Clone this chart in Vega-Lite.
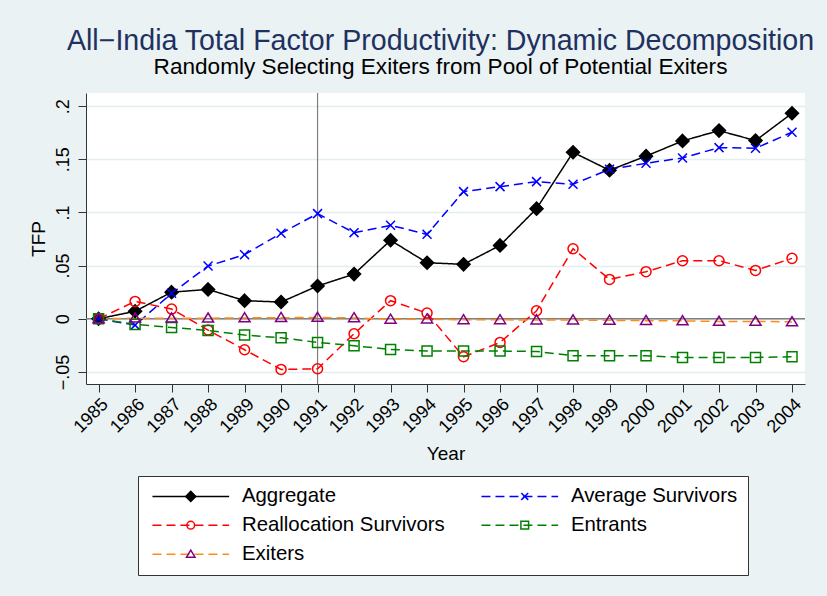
{
  "$schema": "https://vega.github.io/schema/vega-lite/v6.json",
  "width": 719,
  "height": 291,
  "autosize": {"type": "none"},
  "padding": {"left": 86, "top": 93, "right": 22, "bottom": 212},
  "background": "#EAF2F3",
  "view": {"fill": "white", "stroke": null},
  "config": {"font": "Liberation Sans"},
  "title": {
    "text": "All−India Total Factor Productivity: Dynamic Decomposition",
    "subtitle": "Randomly Selecting Exiters from Pool of Potential Exiters",
    "fontSize": 28.6,
    "fontWeight": "normal",
    "color": "#1E3160",
    "subtitleFontSize": 22.6,
    "subtitleColor": "black",
    "subtitlePadding": 0,
    "anchor": "middle",
    "dx": -5,
    "offset": 14
  },
  "data": {"values": [
    {"year": 1985, "series": "Aggregate", "code": "a", "value": 0},
    {"year": 1986, "series": "Aggregate", "code": "a", "value": 0.007},
    {"year": 1987, "series": "Aggregate", "code": "a", "value": 0.025},
    {"year": 1988, "series": "Aggregate", "code": "a", "value": 0.0276},
    {"year": 1989, "series": "Aggregate", "code": "a", "value": 0.017},
    {"year": 1990, "series": "Aggregate", "code": "a", "value": 0.0157},
    {"year": 1991, "series": "Aggregate", "code": "a", "value": 0.0308},
    {"year": 1992, "series": "Aggregate", "code": "a", "value": 0.042},
    {"year": 1993, "series": "Aggregate", "code": "a", "value": 0.0738},
    {"year": 1994, "series": "Aggregate", "code": "a", "value": 0.0527},
    {"year": 1995, "series": "Aggregate", "code": "a", "value": 0.0512},
    {"year": 1996, "series": "Aggregate", "code": "a", "value": 0.069},
    {"year": 1997, "series": "Aggregate", "code": "a", "value": 0.1036},
    {"year": 1998, "series": "Aggregate", "code": "a", "value": 0.1566},
    {"year": 1999, "series": "Aggregate", "code": "a", "value": 0.1397},
    {"year": 2000, "series": "Aggregate", "code": "a", "value": 0.153},
    {"year": 2001, "series": "Aggregate", "code": "a", "value": 0.1673},
    {"year": 2002, "series": "Aggregate", "code": "a", "value": 0.177},
    {"year": 2003, "series": "Aggregate", "code": "a", "value": 0.1676},
    {"year": 2004, "series": "Aggregate", "code": "a", "value": 0.1933},
    {"year": 1985, "series": "Average Survivors", "code": "b", "value": 0},
    {"year": 1986, "series": "Average Survivors", "code": "b", "value": -0.006},
    {"year": 1987, "series": "Average Survivors", "code": "b", "value": 0.0239},
    {"year": 1988, "series": "Average Survivors", "code": "b", "value": 0.0496},
    {"year": 1989, "series": "Average Survivors", "code": "b", "value": 0.0603},
    {"year": 1990, "series": "Average Survivors", "code": "b", "value": 0.0804},
    {"year": 1991, "series": "Average Survivors", "code": "b", "value": 0.0989},
    {"year": 1992, "series": "Average Survivors", "code": "b", "value": 0.081},
    {"year": 1993, "series": "Average Survivors", "code": "b", "value": 0.0879},
    {"year": 1994, "series": "Average Survivors", "code": "b", "value": 0.0794},
    {"year": 1995, "series": "Average Survivors", "code": "b", "value": 0.1196},
    {"year": 1996, "series": "Average Survivors", "code": "b", "value": 0.1243},
    {"year": 1997, "series": "Average Survivors", "code": "b", "value": 0.129},
    {"year": 1998, "series": "Average Survivors", "code": "b", "value": 0.1265},
    {"year": 1999, "series": "Average Survivors", "code": "b", "value": 0.1406},
    {"year": 2000, "series": "Average Survivors", "code": "b", "value": 0.1463},
    {"year": 2001, "series": "Average Survivors", "code": "b", "value": 0.1513},
    {"year": 2002, "series": "Average Survivors", "code": "b", "value": 0.161},
    {"year": 2003, "series": "Average Survivors", "code": "b", "value": 0.1604},
    {"year": 2004, "series": "Average Survivors", "code": "b", "value": 0.1755},
    {"year": 1985, "series": "Reallocation Survivors", "code": "c", "value": 0},
    {"year": 1986, "series": "Reallocation Survivors", "code": "c", "value": 0.0163},
    {"year": 1987, "series": "Reallocation Survivors", "code": "c", "value": 0.0091},
    {"year": 1988, "series": "Reallocation Survivors", "code": "c", "value": -0.0107},
    {"year": 1989, "series": "Reallocation Survivors", "code": "c", "value": -0.0292},
    {"year": 1990, "series": "Reallocation Survivors", "code": "c", "value": -0.0477},
    {"year": 1991, "series": "Reallocation Survivors", "code": "c", "value": -0.0471},
    {"year": 1992, "series": "Reallocation Survivors", "code": "c", "value": -0.0141},
    {"year": 1993, "series": "Reallocation Survivors", "code": "c", "value": 0.017},
    {"year": 1994, "series": "Reallocation Survivors", "code": "c", "value": 0.0053},
    {"year": 1995, "series": "Reallocation Survivors", "code": "c", "value": -0.0358},
    {"year": 1996, "series": "Reallocation Survivors", "code": "c", "value": -0.0223},
    {"year": 1997, "series": "Reallocation Survivors", "code": "c", "value": 0.0075},
    {"year": 1998, "series": "Reallocation Survivors", "code": "c", "value": 0.0659},
    {"year": 1999, "series": "Reallocation Survivors", "code": "c", "value": 0.037},
    {"year": 2000, "series": "Reallocation Survivors", "code": "c", "value": 0.0443},
    {"year": 2001, "series": "Reallocation Survivors", "code": "c", "value": 0.0546},
    {"year": 2002, "series": "Reallocation Survivors", "code": "c", "value": 0.0546},
    {"year": 2003, "series": "Reallocation Survivors", "code": "c", "value": 0.0455},
    {"year": 2004, "series": "Reallocation Survivors", "code": "c", "value": 0.0568},
    {"year": 1985, "series": "Entrants", "code": "d", "value": 0},
    {"year": 1986, "series": "Entrants", "code": "d", "value": -0.0053},
    {"year": 1987, "series": "Entrants", "code": "d", "value": -0.0082},
    {"year": 1988, "series": "Entrants", "code": "d", "value": -0.011},
    {"year": 1989, "series": "Entrants", "code": "d", "value": -0.0154},
    {"year": 1990, "series": "Entrants", "code": "d", "value": -0.0179},
    {"year": 1991, "series": "Entrants", "code": "d", "value": -0.0223},
    {"year": 1992, "series": "Entrants", "code": "d", "value": -0.0254},
    {"year": 1993, "series": "Entrants", "code": "d", "value": -0.0289},
    {"year": 1994, "series": "Entrants", "code": "d", "value": -0.0304},
    {"year": 1995, "series": "Entrants", "code": "d", "value": -0.0304},
    {"year": 1996, "series": "Entrants", "code": "d", "value": -0.0304},
    {"year": 1997, "series": "Entrants", "code": "d", "value": -0.0308},
    {"year": 1998, "series": "Entrants", "code": "d", "value": -0.0348},
    {"year": 1999, "series": "Entrants", "code": "d", "value": -0.0348},
    {"year": 2000, "series": "Entrants", "code": "d", "value": -0.0348},
    {"year": 2001, "series": "Entrants", "code": "d", "value": -0.0364},
    {"year": 2002, "series": "Entrants", "code": "d", "value": -0.0364},
    {"year": 2003, "series": "Entrants", "code": "d", "value": -0.0364},
    {"year": 2004, "series": "Entrants", "code": "d", "value": -0.0358},
    {"year": 1985, "series": "Exiters", "code": "e", "value": 0},
    {"year": 1986, "series": "Exiters", "code": "e", "value": 0.0005},
    {"year": 1987, "series": "Exiters", "code": "e", "value": 0.0005},
    {"year": 1988, "series": "Exiters", "code": "e", "value": 0.0005},
    {"year": 1989, "series": "Exiters", "code": "e", "value": 0.0008},
    {"year": 1990, "series": "Exiters", "code": "e", "value": 0.001},
    {"year": 1991, "series": "Exiters", "code": "e", "value": 0.0012},
    {"year": 1992, "series": "Exiters", "code": "e", "value": 0.0008},
    {"year": 1993, "series": "Exiters", "code": "e", "value": -0.0005},
    {"year": 1994, "series": "Exiters", "code": "e", "value": -0.0003},
    {"year": 1995, "series": "Exiters", "code": "e", "value": -0.001},
    {"year": 1996, "series": "Exiters", "code": "e", "value": -0.001},
    {"year": 1997, "series": "Exiters", "code": "e", "value": -0.0012},
    {"year": 1998, "series": "Exiters", "code": "e", "value": -0.0012},
    {"year": 1999, "series": "Exiters", "code": "e", "value": -0.0015},
    {"year": 2000, "series": "Exiters", "code": "e", "value": -0.0018},
    {"year": 2001, "series": "Exiters", "code": "e", "value": -0.002},
    {"year": 2002, "series": "Exiters", "code": "e", "value": -0.0025},
    {"year": 2003, "series": "Exiters", "code": "e", "value": -0.0025},
    {"year": 2004, "series": "Exiters", "code": "e", "value": -0.003}
  ]},
  "encoding": {
    "x": {
      "field": "year", "type": "quantitative",
      "scale": {"domain": [1984.655, 2004.356], "nice": false, "zero": false},
      "axis": {
        "title": "Year", "values": [1985,1986,1987,1988,1989,1990,1991,1992,1993,1994,1995,1996,1997,1998,1999,2000,2001,2002,2003,2004],
        "format": "d", "labelAngle": -45, "labelFontSize": 18, "labelColor": "black", "labelOverlap": false,
        "tickSize": 8, "tickColor": "#333", "domainColor": "#333", "grid": false,
        "titleFontSize": 19, "titleFontWeight": "normal", "titleColor": "black", "titlePadding": 8,
        "labelPadding": 3
      }
    },
    "y": {
      "field": "value", "type": "quantitative",
      "scale": {"domain": [-0.0614, 0.2124], "nice": false, "zero": false},
      "axis": {
        "title": "TFP", "values": [-0.05, 0, 0.05, 0.1, 0.15, 0.2],
        "labelExpr": "datum.value == 0 ? '0' : replace(format(datum.value, '.2~f'), '0.', '.')",
        "labelAngle": -90, "labelFontSize": 18, "labelColor": "black", "labelPadding": 6, "labelOverlap": false,
        "tickSize": 8, "tickColor": "#333", "domainColor": "#333",
        "grid": true, "gridColor": "#E4EEF0", "gridWidth": 1.5,
        "titleFontSize": 19, "titleFontWeight": "normal", "titleColor": "black", "titlePadding": 6
      }
    }
  },
  "layer": [
    {
      "data": {"values": [{"v": 0}]},
      "mark": {"type": "rule", "color": "#7f7f7f", "strokeWidth": 1.4},
      "encoding": {"x": null, "y": {"field": "v", "type": "quantitative"}}
    },
    {
      "data": {"values": [{"yr": 1991}]},
      "mark": {"type": "rule", "color": "#7f7f7f", "strokeWidth": 1.2},
      "encoding": {"y": null, "x": {"field": "yr", "type": "quantitative"}}
    },
    {
      "mark": {"type": "line", "strokeWidth": 1.5},
      "encoding": {
        "color": {
          "field": "series", "type": "nominal",
          "scale": {"domain": ["Aggregate", "Average Survivors", "Reallocation Survivors", "Entrants", "Exiters"],
                    "range": ["#000000", "#0000FF", "#FF0000", "#008000", "#FF8C1A"]},
          "legend": {
            "title": null, "orient": "none", "legendX": 52, "legendY": 383, "columns": 2, "direction": "horizontal",
            "symbolType": "M-1.15,0H14.19", "symbolSize": 100, "symbolStrokeWidth": 1.5,
            "labelFontSize": 20.4, "labelColor": "black", "labelOffset": 73.5, "labelLimit": 400,
            "rowPadding": 8, "columnPadding": 32, "padding": 10,
            "fillColor": "white", "strokeColor": "#333", "zindex": 1
          }
        },
        "strokeDash": {
          "field": "series", "type": "nominal",
          "scale": {"domain": ["Aggregate", "Average Survivors", "Reallocation Survivors", "Entrants", "Exiters"],
                    "range": [[1, 0], [9, 5], [9, 5], [9, 5], [9, 5]]}
        }
      }
    },
    {
      "mark": {"type": "point", "size": 169, "strokeWidth": 1.5, "opacity": 1, "filled": false},
      "encoding": {
        "shape": {
          "field": "code", "type": "nominal",
          "scale": {"domain": ["a", "b", "c", "d", "e"],
                    "range": ["M0,-1L1,0L0,1L-1,0Z", "M-0.69,-0.69L0.69,0.69M-0.69,0.69L0.69,-0.69", "M-0.77,0A0.77,0.77 0 1,0 0.77,0A0.77,0.77 0 1,0 -0.77,0Z", "M-0.77,-0.77H0.77V0.77H-0.77Z", "M0,-0.8L0.85,0.6L-0.85,0.6Z"]},
          "legend": {
            "title": null, "orient": "none", "legendX": 52, "legendY": 383, "columns": 2, "direction": "horizontal",
            "symbolSize": 100, "symbolStrokeWidth": 1.5, "symbolOffset": 32.55,
            "labelExpr": "''",
            "labelFontSize": 20.4, "labelOffset": 63.5, "labelLimit": 400,
            "rowPadding": 8, "columnPadding": 217, "padding": 10, "zindex": 2
          }
        },
        "stroke": {
          "field": "code", "type": "nominal",
          "scale": {"domain": ["a", "b", "c", "d", "e"],
                    "range": ["#000000", "#0000FF", "#FF0000", "#008000", "#800080"]}
        },
        "fill": {
          "field": "code", "type": "nominal",
          "scale": {"domain": ["a", "b", "c", "d", "e"],
                    "range": ["#000000", "transparent", "transparent", "transparent", "transparent"]}
        }
      }
    }
  ]
}
